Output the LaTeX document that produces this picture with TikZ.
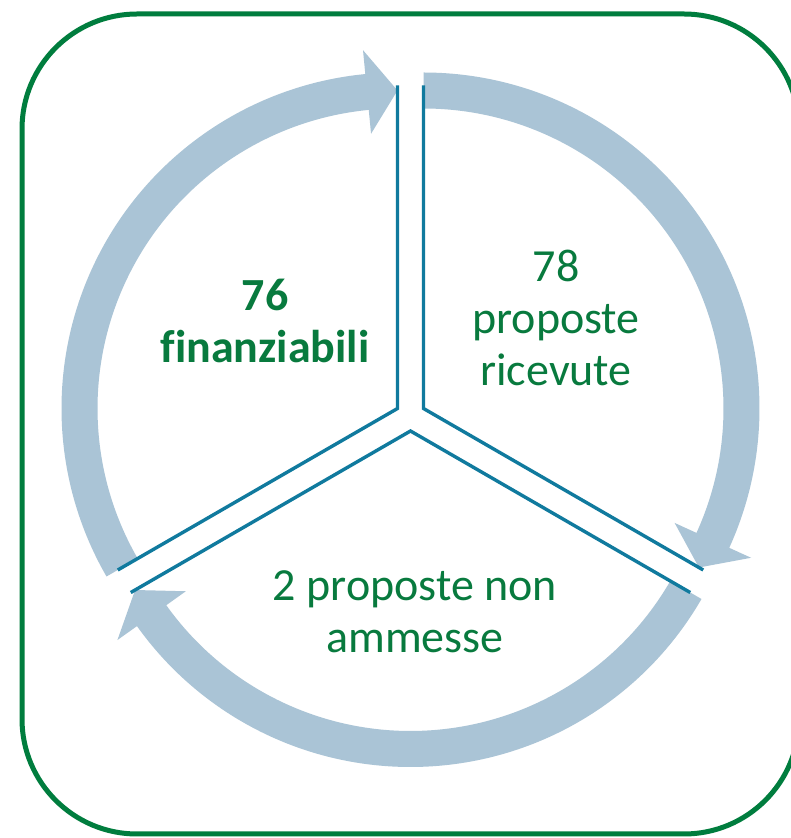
\documentclass[tikz,border=0pt]{standalone}
\usepackage{fontspec}
\setmainfont{Carlito}[Ligatures=NoCommon]
\definecolor{bandblue}{RGB}{170,196,214}
\definecolor{divteal}{RGB}{16,122,158}
\definecolor{boxgreen}{RGB}{0,125,62}
\definecolor{txtgreen}{RGB}{8,122,62}
\newcommand\cyclearrow[4]{%
  \fill[band, shift={(#1)}] (#2:336) arc[start angle=#2, end angle=#3, radius=336]
    -- (#3:360) -- (#4:318) -- (#3:276) -- (#3:300)
    arc[start angle=#3, end angle=#2, radius=300] -- cycle;}
\begin{document}
\begin{tikzpicture}[x=1pt,y=1pt,
  band/.style={fill=bandblue, draw=none},
  divider/.style={draw=divteal, line width=3.4pt},
  lbl/.style={text=txtgreen, font=\fontsize{46}{52}\selectfont, align=center, inner sep=0pt, anchor=north},
  lblbold/.style={lbl, font=\bfseries\fontsize{46}{52}\selectfont}]
\clip (0,0) rectangle (791,838);
\fill[white] (0,0) rectangle (791,838);
\draw[boxgreen, line width=5pt, rounded corners=115pt] (22,824) rectangle (799,4);

\coordinate (L) at (397.5,429.5);
\coordinate (R) at (423.5,429.5);
\coordinate (B) at (410.5,407);

\cyclearrow{L}{210}{95.5}{90}
\cyclearrow{R}{90}{-24.5}{-30}
\cyclearrow{B}{-30}{-144.5}{-150}

\draw[divider, shift={(L)}] (90:323) -- (0,0) -- (210:323);
\draw[divider, shift={(R)}] (90:323) -- (0,0) -- (-30:323);
\draw[divider, shift={(B)}] (210:323) -- (0,0) -- (-30:323);

\node[lbl] (t1) at (556,588) {78\\proposte\\ricevute};
\node[lblbold] (t2) at (265,559) {76\\finanziabili};
\node[lbl] (t3) at (415,268) {2 proposte non\\ammesse};
\end{tikzpicture}
\end{document}
